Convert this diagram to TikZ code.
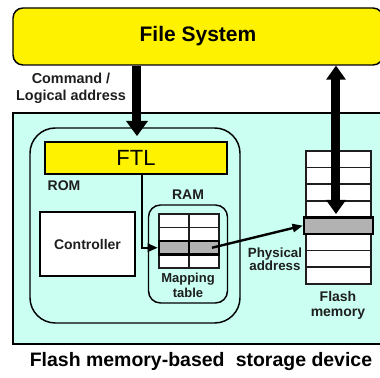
\documentclass[tikz,border=0pt]{standalone}
\usepackage{fontspec}
\setmainfont{Liberation Sans}
\definecolor{devcyan}{RGB}{202,255,241}
\definecolor{rowgray}{RGB}{178,178,178}
\definecolor{inkgray}{RGB}{30,30,30}

\tikzset{every picture/.style={line width=0.75pt}}
\tikzset{
  box/.style={draw, inner sep=0pt},
  lbl/.style={inner sep=0.75pt, text=inkgray, align=center, font=\bfseries\fontsize{10.5}{12.75}\selectfont},
  cell/.style={draw=inkgray, fill=white, line width=1.1pt},
  hirow/.style={draw, fill=rowgray, line width=2.2pt, inner sep=0pt},
  bigshaft/.style={line width=6.75pt},
  thinshaft/.style={line width=1.8pt},
  head/.style={fill=black, line width=0.08, draw opacity=0}
}

\begin{document}
\begin{tikzpicture}[x=0.75pt,y=0.75pt,yscale=-1,xscale=1]
\path [use as bounding box] (0,0) rectangle (380,378);
\clip (0,0) rectangle (380,378);

%Shape: Rectangle [storage device]
\node [box, fill=devcyan, line width=1.1pt, minimum width=279.75pt, minimum height=173.25pt] (dev) at (199.5,228.5) {};
%Shape: Rounded Rect [file system]
\node [box, fill=yellow, line width=1.1pt, rounded corners=7.5pt, minimum width=277.5pt, minimum height=42.75pt, font=\bfseries\fontsize{15.75}{18}\selectfont] (fs) at (198,36.5) {File System};
%Shape: Rounded Rect [ROM]
\node [box, line width=1.1pt, rounded corners=19pt, minimum width=157.5pt, minimum height=146.25pt] (rom) at (135,225.5) {};
%Shape: Rectangle [FTL]
\node [box, fill=yellow, line width=1.5pt, minimum width=136.5pt, minimum height=24pt, font=\fontsize{16.5}{18}\selectfont] (ftl) at (136,158) {FTL};
%Shape: Rectangle [controller]
\node [box, fill=white, line width=1.5pt, minimum width=71.25pt, minimum height=48pt, font=\bfseries\fontsize{10.5}{12}\selectfont, text=inkgray] (ctrl) at (87.5,244) {Controller};
%Shape: Rounded Rect [RAM]
\node [box, line width=1.1pt, rounded corners=9pt, minimum width=59.25pt, minimum height=73.5pt] (ram) at (188,254) {};

%Mapping table cells
\foreach \r in {0,...,3}{
  \foreach \c in {0,1}{
    \draw [cell] ({159+30*\c},{214+13.5*\r}) rectangle ++(30,13.5);
  }
}
\node [hirow, minimum width=45pt, minimum height=10.1pt] (maprow) at (189,247.75) {};
\draw [line width=2.2pt] (maprow.north) -- (maprow.south);

%Flash memory blocks
\foreach \r in {0,...,7}{
  \draw [cell] (306,{151+16.6*\r}) rectangle ++(65,16.6);
}
\node [hirow, minimum width=51.75pt, minimum height=12.45pt] (flrow) at (338.5,225.7) {};

% Text Node
\node [lbl, font=\bfseries\fontsize{10.8}{12.75}\selectfont] (cmd) at (71,88.5) {Command /\\Logical address};
% Text Node
\node [lbl] (romlbl) at (64,186) {ROM};
% Text Node
\node [lbl] (ramlbl) at (188,195) {RAM};
% Text Node
\node [lbl, font=\bfseries\fontsize{9.75}{11.25}\selectfont] (maplbl) at (188,285.5) {Mapping\\table};
% Text Node
\node [lbl, font=\bfseries\fontsize{10}{9.75}\selectfont] (phylbl) at (275,259.5) {Physical\\address};
% Text Node
\node [lbl, font=\bfseries\fontsize{10.5}{11.25}\selectfont] (fllbl) at (338,305.5) {Flash\\memory};
% Text Node
\node [lbl, text=black, font=\bfseries\fontsize{14.6}{16}\selectfont] (cap) at (201,362) {Flash memory-based\hspace{0.3em} storage device};

\coordinate (ftlin) at (137,136);
\coordinate (flin) at (336,214);
\coordinate (fsout) at (fs.south -| flin);
\coordinate (mapsrc) at (212,247.75);

%Straight Lines [command down]
\draw [bigshaft, shorten >=11pt] (fs.south -| ftlin) -- (ftlin);
\draw [shift={(ftlin)}, rotate = 270] [head] (15,-11) -- (0,0) -- (15,11) -- cycle ;
%Straight Lines [data both ways]
\draw [bigshaft, shorten >=10pt, shorten <=10pt] (fsout) -- (flin);
\draw [shift={(fsout)}, rotate = 90] [head] (14,-10) -- (0,0) -- (14,10) -- cycle ;
\draw [shift={(flin)}, rotate = 270] [head] (14,-10) -- (0,0) -- (14,10) -- cycle ;
%Straight Lines [FTL lookup]
\draw [thinshaft, shorten >=6pt] (ftl.south -| 142,0) -- (142,247.75) -- (maprow.west);
\draw [shift={(maprow.west)}, rotate = 180] [head] (10,-4.5) -- (0,0) -- (10,4.5) -- cycle ;
%Straight Lines [physical address]
\draw [thinshaft, shorten >=6pt] (mapsrc) -- (flrow.west);
\draw [shift={(flrow.west)}, rotate = 166.4] [head] (10,-4.5) -- (0,0) -- (10,4.5) -- cycle ;

\end{tikzpicture}
\end{document}
